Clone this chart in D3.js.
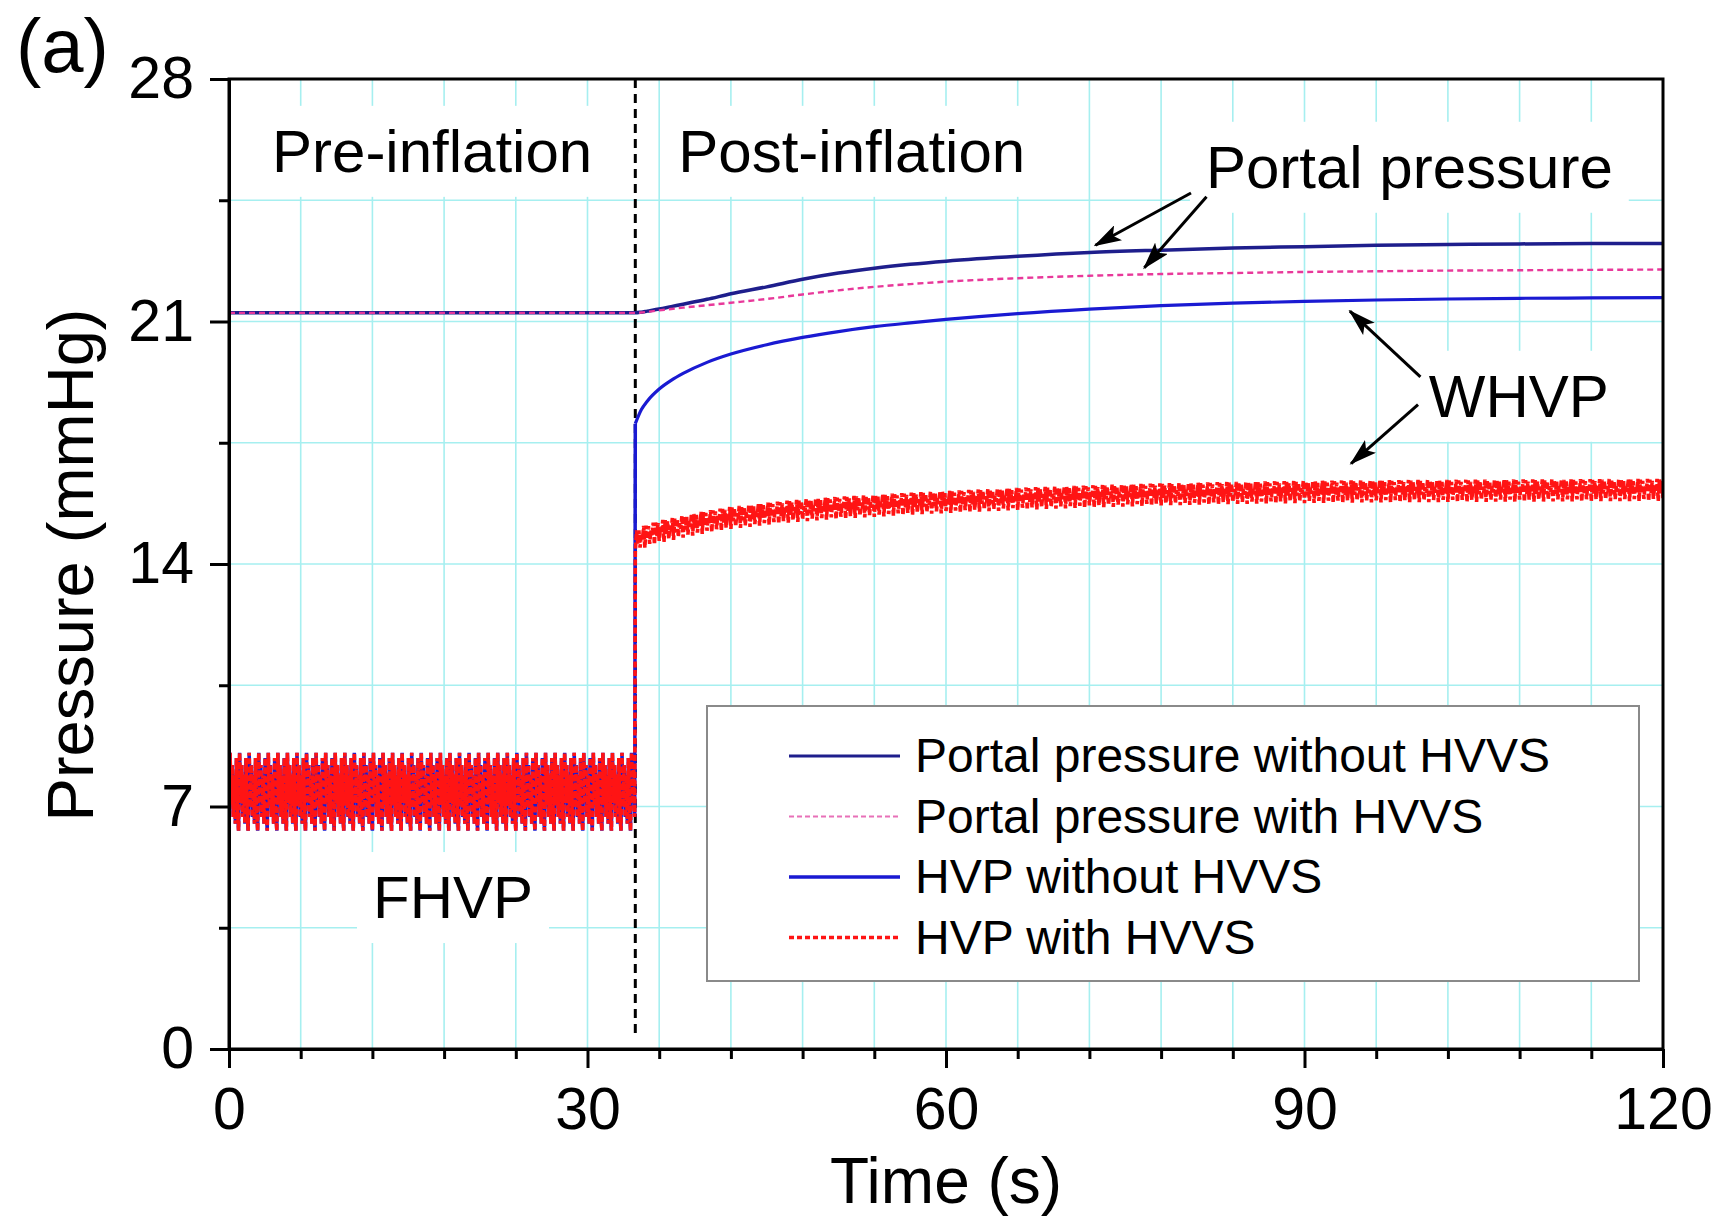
<!DOCTYPE html>
<meta charset="utf-8">
<title>Portal pressure and HVP - balloon inflation</title>
<script src="https://d3js.org/d3.v7.min.js"></script>
<style>
  body { margin: 0; background: #fff; }
  text { font-family: "Liberation Sans", Arial, Helvetica, sans-serif; fill: #000; }
</style>

<div id="chart"></div>

<script>
  // ---- data ----
  const xTicks = [0, 30, 60, 90, 120];
  const yTicks = [0, 7, 14, 21, 28];
  const inflationTime = 34;          // s, balloon inflated
  const prePortal = 21.25;           // mmHg, portal pressure before inflation

  const postTime      = [34, 34.5, 35, 36, 37, 38, 40, 42, 45, 48, 51, 54, 57, 60, 66, 72, 78, 84, 90, 96, 102, 108, 114, 120];
  const portalWithout = [21.25, 21.27, 21.3, 21.36, 21.43, 21.5, 21.64, 21.8, 22.0, 22.22, 22.4, 22.54, 22.65, 22.74, 22.88, 22.99, 23.06, 23.12, 23.16, 23.2, 23.22, 23.24, 23.25, 23.25];
  const portalWith    = [21.25, 21.26, 21.28, 21.32, 21.36, 21.4, 21.47, 21.54, 21.65, 21.78, 21.9, 22.0, 22.08, 22.15, 22.25, 22.32, 22.37, 22.4, 22.43, 22.45, 22.47, 22.48, 22.49, 22.5];
  const hvpWithout    = [18.05, 18.45, 18.7, 19.05, 19.3, 19.5, 19.82, 20.06, 20.33, 20.54, 20.71, 20.85, 20.96, 21.06, 21.23, 21.36, 21.46, 21.53, 21.58, 21.62, 21.65, 21.67, 21.68, 21.69];
  const hvpWith       = [14.65, 14.75, 14.82, 14.93, 15.0, 15.08, 15.22, 15.33, 15.45, 15.55, 15.62, 15.68, 15.74, 15.79, 15.88, 15.95, 16.01, 16.05, 16.08, 16.1, 16.11, 16.12, 16.13, 16.14];

  // one heart beat of the venous trace
  const beatPeriod = 0.8;                                                 // s
  const fhvpBeat = [6.3, 8.55, 7.1, 8.2, 6.7, 7.9, 6.5, 8.4, 6.9];          // mmHg, free HVP
  const whvpBeat = [-0.32, 0.3, -0.1, 0.26, -0.26, 0.12, -0.05, 0.32];     // mmHg, around the wedged trend

  const legendLabels = ["Portal pressure without HVVS", "Portal pressure with HVVS", "HVP without HVVS", "HVP with HVVS"];

  // ---- layout ----
  const margin = { top: 79, right: 61, bottom: 169, left: 229 },
    width = 1724 - margin.left - margin.right,
    height = 1218 - margin.top - margin.bottom;

  const gridColor = "#a6eff0";
  const colPortalWithout = "#1e1e8c",
    colPortalWith = "#e8389a",
    colHvpWithout = "#1a1ad2",
    colHvpWith = "#ff1414";

  const svg = d3.select("#chart")
    .append("svg")
    .attr("width", 1724)
    .attr("height", 1218);

  svg.append("defs").append("marker")
    .attr("id", "arrow")
    .attr("viewBox", "0 0 28 17")
    .attr("refX", 26).attr("refY", 8.5)
    .attr("markerWidth", 28).attr("markerHeight", 17)
    .attr("markerUnits", "userSpaceOnUse")
    .attr("orient", "auto")
    .append("path")
    .attr("d", "M0,0 L28,8.5 L0,17 L6,8.5 Z")
    .attr("fill", "#000");

  svg.append("clipPath").attr("id", "plotclip")
    .append("rect").attr("x", margin.left).attr("y", margin.top)
    .attr("width", width).attr("height", height);

  const g = svg.append("g")
    .attr("transform", `translate(${margin.left},${margin.top})`);

  const x = d3.scaleLinear().domain([0, 120]).range([0, width]);
  const y = d3.scaleLinear().domain([0, 28]).range([height, 0]);

  // grid
  g.append("g").selectAll("line")
    .data(d3.range(6, 120, 6))
    .join("line")
    .attr("x1", d => x(d)).attr("x2", d => x(d))
    .attr("y1", 0).attr("y2", height)
    .attr("stroke", gridColor).attr("stroke-width", 1.6);

  g.append("g").selectAll("line")
    .data(d3.range(1, 8).map(i => i * 3.5))
    .join("line")
    .attr("x1", 0).attr("x2", width)
    .attr("y1", d => y(d)).attr("y2", d => y(d))
    .attr("stroke", gridColor).attr("stroke-width", 1.6);

  // annotation texts (white box behind, breaks the grid like the original)
  const notes = [
    { text: "Pre-inflation", t: 3.6, p: 25.32 },
    { text: "Post-inflation", t: 37.6, p: 25.32 },
    { text: "Portal pressure", t: 81.75, p: 24.86 },
    { text: "WHVP", t: 100.4, p: 18.25 },
    { text: "FHVP", t: 12.05, p: 3.78 }
  ];
  const noteBg = g.append("g");
  const noteText = g.append("g");
  noteText.selectAll("text")
    .data(notes)
    .join("text")
    .attr("x", d => x(d.t))
    .attr("y", d => y(d.p))
    .style("font-size", "60px")
    .text(d => d.text)
    .each(function () {
      const b = this.getBBox();
      noteBg.append("rect")
        .attr("x", b.x - 16).attr("y", b.y - 12)
        .attr("width", b.width + 32).attr("height", b.height + 24)
        .attr("fill", "#fff");
    });

  // inflation marker
  g.append("line")
    .attr("x1", x(inflationTime)).attr("x2", x(inflationTime))
    .attr("y1", y(28)).attr("y2", y(0.3))
    .attr("stroke", "#000").attr("stroke-width", 3)
    .attr("stroke-dasharray", "9,6");

  // ---- series ----
  const line = d3.line().x(d => x(d[0])).y(d => y(d[1]));
  const smooth = d3.line().x(d => x(d[0])).y(d => y(d[1])).curve(d3.curveMonotoneX);

  // the beat read above, laid one after another along the time axis
  const fhvpPoints = [];
  for (let t = 0; t < inflationTime - 1e-9; t += beatPeriod) {
    fhvpBeat.forEach((v, i) => {
      const ti = t + i * beatPeriod / fhvpBeat.length;
      if (ti < inflationTime) fhvpPoints.push([ti, v]);
    });
  }

  const hvpWithTrend = d3.scaleLinear().domain(postTime).range(hvpWith);
  const whvpPoints = [];
  for (let t = inflationTime; t < 120 - 1e-9; t += beatPeriod) {
    whvpBeat.forEach((o, i) => {
      const ti = t + i * beatPeriod / whvpBeat.length;
      if (ti <= 120) whvpPoints.push([ti, hvpWithTrend(ti) + o]);
    });
  }

  const zip = (ts, vs) => ts.map((t, i) => [t, vs[i]]);
  const lines = g.append("g").attr("transform", `translate(${-margin.left},${-margin.top})`)
    .attr("clip-path", "url(#plotclip)")
    .append("g").attr("transform", `translate(${margin.left},${margin.top})`);

  // HVP without HVVS: free pulse, then smooth wedged curve
  lines.append("path")
    .attr("d", line(fhvpPoints.concat([[inflationTime, hvpWithout[0]]])))
    .attr("fill", "none").attr("stroke", colHvpWithout).attr("stroke-width", 3.5);
  lines.append("path")
    .attr("d", smooth(zip(postTime, hvpWithout)))
    .attr("fill", "none").attr("stroke", colHvpWithout).attr("stroke-width", 3.2);

  // Portal pressure without HVVS
  lines.append("path")
    .attr("d", smooth([[0, prePortal]].concat(zip(postTime, portalWithout))))
    .attr("fill", "none").attr("stroke", colPortalWithout).attr("stroke-width", 3.5);

  // Portal pressure with HVVS
  lines.append("path")
    .attr("d", smooth([[0, prePortal]].concat(zip(postTime, portalWith))))
    .attr("fill", "none").attr("stroke", colPortalWith).attr("stroke-width", 2.4)
    .attr("stroke-dasharray", "6,4");

  // HVP with HVVS: pulses all the way
  lines.append("path")
    .attr("d", line(fhvpPoints.concat(whvpPoints)))
    .attr("fill", "none").attr("stroke", colHvpWith).attr("stroke-width", 3.6)
    .attr("stroke-dasharray", "6,2.5");

  // arrows
  const arrows = [
    [80.5, 24.71, 72.5, 23.2],
    [81.8, 24.6, 76.6, 22.55],
    [99.7, 19.4, 93.8, 21.3],
    [99.5, 18.6, 93.9, 16.9]
  ];
  g.append("g").selectAll("line")
    .data(arrows)
    .join("line")
    .attr("x1", d => x(d[0])).attr("y1", d => y(d[1]))
    .attr("x2", d => x(d[2])).attr("y2", d => y(d[3]))
    .attr("stroke", "#000").attr("stroke-width", 3)
    .attr("marker-end", "url(#arrow)");

  // ---- legend ----
  const legend = g.append("g").attr("transform", "translate(478,627)");
  legend.append("rect")
    .attr("width", 932).attr("height", 275)
    .attr("fill", "#fff").attr("stroke", "#8a8a8a").attr("stroke-width", 2);
  const legStyles = [
    { c: colPortalWithout, w: 3, dash: null },
    { c: "#e870b8", w: 2, dash: "5,3" },
    { c: colHvpWithout, w: 3.4, dash: null },
    { c: colHvpWith, w: 3.4, dash: "5,3" }
  ];
  const rows = legend.selectAll("g.row")
    .data(legendLabels)
    .join("g")
    .attr("class", "row")
    .attr("transform", (d, i) => `translate(0,${50 + i * 60.5})`);
  rows.append("line")
    .attr("x1", 82).attr("x2", 193)
    .attr("stroke", (d, i) => legStyles[i].c)
    .attr("stroke-width", (d, i) => legStyles[i].w)
    .attr("stroke-dasharray", (d, i) => legStyles[i].dash);
  rows.append("text")
    .attr("x", 208).attr("y", 16)
    .style("font-size", "48px")
    .text(d => d);

  // ---- axes ----
  const styleAxis = sel => {
    sel.select(".domain").attr("stroke-width", 3);
    sel.selectAll(".tick line").attr("stroke-width", 3);
    sel.selectAll(".tick text").style("font-size", "59px")
      .style("font-family", "'Liberation Sans', Arial, sans-serif");
  };

  g.append("g")
    .attr("transform", `translate(0,${height})`)
    .call(d3.axisBottom(x).tickValues(d3.range(6, 120, 6).filter(v => v % 30)).tickSize(10).tickFormat(""))
    .call(s => s.select(".domain").remove())
    .call(styleAxis);
  g.append("g")
    .call(d3.axisLeft(y).tickValues(d3.range(1, 8).map(i => i * 3.5).filter((v, i) => i % 2 === 0)).tickSize(10).tickFormat(""))
    .call(s => s.select(".domain").remove())
    .call(styleAxis);

  g.append("g")
    .attr("transform", `translate(0,${height})`)
    .call(d3.axisBottom(x).tickValues(xTicks).tickSize(19).tickPadding(19).tickSizeOuter(0))
    .call(styleAxis);
  g.append("g")
    .call(d3.axisLeft(y).tickValues(yTicks).tickSize(19).tickPadding(16).tickSizeOuter(0))
    .call(styleAxis);

  g.append("rect")
    .attr("width", width).attr("height", height)
    .attr("fill", "none").attr("stroke", "#000").attr("stroke-width", 3);

  // titles
  g.append("text")
    .attr("text-anchor", "middle")
    .attr("x", width / 2)
    .attr("y", height + 154)
    .style("font-size", "64px")
    .text("Time (s)");

  svg.append("text")
    .attr("text-anchor", "middle")
    .attr("transform", "translate(93,565) rotate(-90)")
    .style("font-size", "65px")
    .text("Pressure (mmHg)");

  svg.append("text")
    .attr("x", 16).attr("y", 72)
    .style("font-size", "76px")
    .text("(a)");
</script>
